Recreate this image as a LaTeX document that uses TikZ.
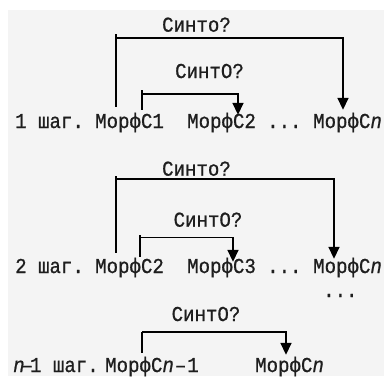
\documentclass[tikz,border=0pt]{standalone}
\usepackage{fontspec}
\newfontfamily\codefont[FakeStretch=0.9,FakeBold=0.8]{Liberation Mono}
\usetikzlibrary{arrows.meta}
\definecolor{panel}{HTML}{F4F4F4}
\definecolor{ink}{HTML}{1E1E1E}

\begin{document}
\begin{tikzpicture}[x=1pt,y=-1pt,
  word/.style={anchor=base west, inner sep=0pt, text height=17pt, text depth=4pt,
    font=\codefont\fontsize{21.2}{24}\selectfont, text=ink},
  query/.style={anchor=base, inner sep=0pt,
    font=\codefont\fontsize{21.2}{24}\selectfont, text=ink},
  conn/.style={line width=1.6pt, draw=black},
  tip/.style={-{Triangle[length=12pt,width=11pt]}}
]
\useasboundingbox (0,0) rectangle (384,376);
\fill[white] (0,0) rectangle (384,376);
\fill[panel] (8,10) rectangle (384,376);

% step 1
\node[word] (k1) at (15,128) {1 шаг.};
\node[word] (a1) at (95,128) {МорфС1};
\node[word] (a2) at (187,128) {МорфС2};
\node[word] (a3) at (267,128) {...};
\node[word] (an) at (313,128) {МорфС\textit{n}};

% step 2
\node[word] (k2) at (15,273) {2 шаг.};
\node[word] (b1) at (95,273) {МорфС2};
\node[word] (b2) at (187,273) {МорфС3};
\node[word] (b3) at (267,273) {...};
\node[word] (bn) at (313,273) {МорфС\textit{n}};
\node[word] (vd) at (323,297) {...};

% step n-1
\node[word] (k3) at (13,372) {\textit{n}\kern-3pt–\kern-3pt1 шаг.};
\node[word] (c1) at (105,372) {МорфС\textit{n}\kern1pt–\kern1pt1};
\node[word] (cn) at (255,372) {МорфС\textit{n}};

% questions
\node[query] (q1) at (196.5,31.7) {Синто?};
\node[query] (q2) at (209.5,78) {СинтО?};
\node[query] (q3) at (196.5,175.7) {Синто?};
\node[query] (q4) at (208,226.7) {СинтО?};
\node[query] (q5) at (206,321) {СинтО?};

% bus levels and tick tops
\coordinate (bus1) at (0,38);   \coordinate (top1) at (0,34);
\coordinate (bus2) at (0,94);   \coordinate (top2) at (0,90);
\coordinate (bus3) at (0,179);  \coordinate (top3) at (0,175.5);
\coordinate (bus4) at (0,237.5);\coordinate (top4) at (0,234.5);
\coordinate (bus5) at (0,332);  \coordinate (top5) at (0,332);

% connector end points
\coordinate (L1) at ([xshift=21pt,yshift=4pt]a1.north west);
\coordinate (R1) at ([xshift=30pt,yshift=1pt]an.north west);
\coordinate (L2) at ([xshift=47pt,yshift=1pt]a1.north west);
\coordinate (R2) at ([xshift=51pt,yshift=-4pt]a2.north west);
\coordinate (L3) at ([xshift=21pt,yshift=3pt]b1.north west);
\coordinate (R3) at ([xshift=21pt,yshift=-3pt]bn.north west);
\coordinate (L4) at ([xshift=45pt,yshift=-1pt]b1.north west);
\coordinate (R4) at ([xshift=46pt,yshift=-6pt]b2.north west);
\coordinate (L5) at ([xshift=37pt,yshift=2pt]c1.north west);
\coordinate (R5) at ([xshift=31pt]cn.north west);

% connectors
\draw[conn] (L1) -- (L1 |- top1);
\draw[conn,tip] (L1 |- bus1) -| (R1);
\draw[conn] (L2) -- (L2 |- top2);
\draw[conn,tip] (L2 |- bus2) -| (R2);
\draw[conn] (L3) -- (L3 |- top3);
\draw[conn,tip] (L3 |- bus3) -| (R3);
\draw[conn] (L4) -- (L4 |- top4);
\draw[conn,tip] (L4 |- bus4) -| (R4);
\draw[conn] (L5) -- (L5 |- top5);
\draw[conn,tip] (L5 |- bus5) -| (R5);
\end{tikzpicture}
\end{document}
